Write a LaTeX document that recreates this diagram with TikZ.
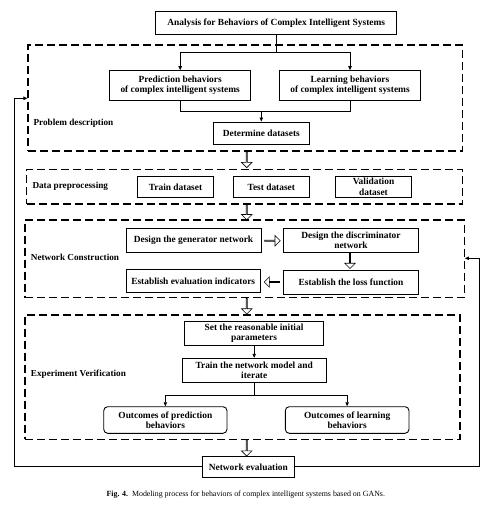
\documentclass[tikz,border=0pt]{standalone}
\usepackage{fontspec}
\setmainfont{Liberation Serif}
\usetikzlibrary{arrows.meta,shapes.arrows}
\tikzset{
  box/.style={draw, line width=0.9pt, font=\bfseries\fontsize{9.4}{10.4}\selectfont, align=center, inner sep=0pt},
  rbox/.style={box, rounded corners=4pt},
  group/.style={draw, line width=1.1pt, dash pattern=on 8pt off 4pt, inner sep=0pt},
  grouplabel/.style={font=\bfseries\fontsize{9.2}{10.4}\selectfont, anchor=west, inner sep=0pt},
  link/.style={line width=0.8pt, -{Triangle[length=4pt,width=3.4pt]}},
  plain/.style={line width=0.8pt},
  hollow/.style={single arrow, draw, line width=0.6pt, inner sep=0pt, minimum width=10.5pt, single arrow head extend=2.6pt, single arrow head indent=0pt},
}
\begin{document}
\begin{tikzpicture}[x=1pt,y=-1pt]
\useasboundingbox (0,0) rectangle (498,505);
% group frames
\node[group, minimum width=434.7pt, minimum height=106pt] (gpd) at (245.35,98) {};
\node[group, minimum width=435.6pt, minimum height=34.7pt] (gdp) at (244.5,186.65) {};
\node[group, minimum width=439.3pt, minimum height=77.7pt] (gnc) at (244.65,258.85) {};
\node[group, minimum width=435pt, minimum height=124.3pt] (gev) at (242.5,377.15) {};
% group labels
\node[grouplabel] (lpd) at (33.3,123.3) {Problem description};
\node[grouplabel] (ldp) at (32.3,186.7) {Data preprocessing};
\node[grouplabel] (lnc) at (30.7,257.3) {Network Construction};
\node[grouplabel] (lev) at (30.7,374) {Experiment Verification};
% boxes
\node[box, minimum width=241pt, minimum height=22.3pt] (top) at (276.2,22.85) {Analysis for Behaviors of Complex Intelligent Systems};
\node[box, minimum width=141pt, minimum height=29.3pt] (pred) at (180.2,85.35) {Prediction behaviors\\of complex intelligent systems};
\node[box, minimum width=141.4pt, minimum height=29.3pt] (learn) at (350,85.35) {Learning behaviors\\of complex intelligent systems};
\node[box, minimum width=96pt, minimum height=22.7pt] (det) at (261.3,133.35) {Determine datasets};
\node[box, minimum width=76.4pt, minimum height=21.7pt] (train) at (175.5,186.85) {Train dataset};
\node[box, minimum width=76pt, minimum height=21.7pt] (test) at (271.3,186.85) {Test dataset};
\node[box, minimum width=76.4pt, minimum height=21.7pt] (valid) at (373.5,186.85) {Validation\\dataset};
\node[box, minimum width=135pt, minimum height=23.3pt] (gen) at (193.5,240.35) {Design the generator network};
\node[box, minimum width=135.4pt, minimum height=23.3pt] (disc) at (351,240.35) {Design the discriminator\\network};
\node[box, minimum width=135.4pt, minimum height=23.3pt] (loss) at (351,282.35) {Establish the loss function};
\node[box, minimum width=134.3pt, minimum height=23.4pt] (evind) at (193.2,281) {Establish evaluation indicators};
\node[box, minimum width=139.4pt, minimum height=23.6pt] (set) at (254,333.5) {Set the reasonable initial\\parameters};
\node[box, minimum width=144.3pt, minimum height=24pt] (tnet) at (254.2,370.3) {Train the network model and\\iterate};
\node[rbox, minimum width=123.3pt, minimum height=26.6pt] (opred) at (165.35,420) {Outcomes of prediction\\behaviors};
\node[rbox, minimum width=123.7pt, minimum height=26.6pt] (olearn) at (347.15,420) {Outcomes of learning\\behaviors};
\node[box, minimum width=91.3pt, minimum height=21.7pt] (neval) at (248.35,466.85) {Network evaluation};
% caption
\node[font=\fontsize{7.9}{9}\selectfont, inner sep=0pt] (cap) at (245.8,494.3) {\textbf{Fig. 4.}\enspace Modeling process for behaviors of complex intelligent systems based on GANs.};
% thin connectors
\coordinate (s1) at (276.7,52.3);
\draw[plain] (top.south -| s1) -- (s1);
\draw[link] (s1) -| (pred.north);
\draw[link] (s1) -| (learn.north);
\coordinate (s2) at (261.3,111);
\draw[plain] (pred.south) |- (s2);
\draw[plain] (learn.south) |- (s2);
\draw[link] (s2) -- (det.north);
\draw[link] (set.south -| tnet.north) -- (tnet.north);
\coordinate (s3) at (254.2,395);
\draw[plain] (tnet.south) -- (s3);
\draw[link] (s3) -| (opred.north);
\draw[link] (s3) -| (olearn.north);
% feedback loops
\coordinate (fl) at (14,466.85);
\coordinate (fl2) at (14,98.3);
\draw[plain] (neval.west) -- (fl) -- (fl2);
\draw[link] (fl2) -- (fl2 -| gpd.west);
\coordinate (fr) at (479,466.85);
\coordinate (fr2) at (479,258.3);
\draw[plain] (neval.east) -- (fr) -- (fr2);
\draw[link] (fr2) -- (fr2 -| gnc.east);
% hollow arrows
\node[hollow, minimum height=15.5pt, shape border rotate=270] (h1) at (246.7,159.6) {};
\node[hollow, minimum height=15pt, shape border rotate=270] (h2) at (246.7,212) {};
\node[hollow, minimum height=15.5pt, shape border rotate=270] (h3) at (246.7,306) {};
\node[hollow, minimum height=16pt, shape border rotate=270] (h4) at (246.7,447.8) {};
\node[hollow, minimum height=15.5pt] (h5) at (272.2,240.7) {};
\node[hollow, minimum height=15.5pt, shape border rotate=270] (h6) at (350,260.5) {};
\node[hollow, minimum height=15.5pt, shape border rotate=180] (h7) at (272.2,282) {};
\end{tikzpicture}
\end{document}
